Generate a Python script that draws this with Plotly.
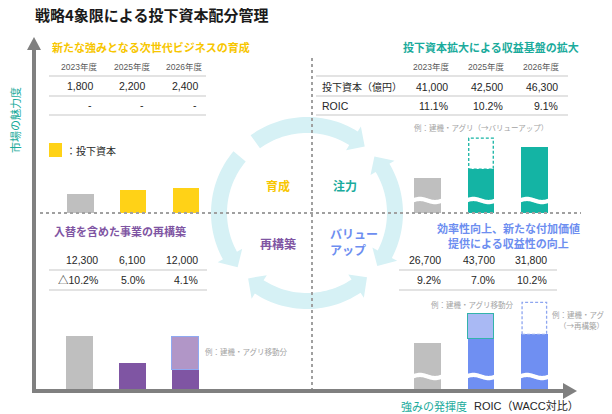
import math
import plotly.graph_objects as go

# ---------------- data ----------------
years = ["2023年度", "2025年度", "2026年度"]

ikusei_capital = [1800, 2200, 2400]
ikusei_roic = ["-", "-", "-"]

chuuryoku_capital = [41000, 42500, 46300]
chuuryoku_roic = [11.1, 10.2, 9.1]
chuuryoku_moved_out = [0, 5300, 0]        # dashed portion (→バリューアップ)

saikouchiku_capital = [12300, 6100, 12000]
saikouchiku_roic = [-10.2, 5.0, 4.1]
saikouchiku_moved_in = [0, 0, 7600]       # 建機・アグリ移動分

valueup_capital = [26700, 43700, 31800]
valueup_roic = [9.2, 7.0, 10.2]
valueup_moved_in = [0, 14500, 0]          # 建機・アグリ移動分
valueup_moved_out = [0, 0, 18600]         # dashed portion (→再構築)

# ---------------- styling ----------------
W, H = 612, 414
OFF = 8  # page body margin
FONT = "Liberation Sans, Noto Sans CJK JP, sans-serif"
JP = "Noto Sans CJK JP, sans-serif"
GRAY_BAR = "#bfbfbf"
YELLOW = "#ffd217"
YELLOW_T = "#f7c600"
TEAL = "#14b4a4"
TEAL_T = "#1aab9c"
PURPLE = "#7f55a3"
PURPLE_L = "#b196c7"
BLUE = "#6f8ff2"
BLUE_L = "#a9b9f4"
BLUE_T = "#6d8ef0"
RING = "#d6f1f5"
AXIS = "#808080"
LINE = "#c8c8c8"


def X(p):
    return (p - OFF) / W


def Y(p):
    return 1 - (p - OFF) / H


fig = go.Figure()
shapes = []
ann = []


def text(x, y, s, size=10, color="#262626", xanchor="center", bold=False,
         family=FONT, angle=0, align="center"):
    ann.append(dict(x=X(x), y=Y(y), xref="paper", yref="paper", text=(f"<b>{s}</b>" if bold else s),
                    showarrow=False, xanchor=xanchor, yanchor="middle", textangle=angle, align=align,
                    font=dict(size=size, color=color, family=family)))


def hline(x0, x1, y, color=LINE, width=1.2, dash="solid"):
    shapes.append(dict(type="line", xref="paper", yref="paper", x0=X(x0), x1=X(x1), y0=Y(y), y1=Y(y),
                       line=dict(color=color, width=width, dash=dash)))


def poly(pts, color, layer="below", line_color=None, lw=0):
    d = "M " + " L ".join(f"{X(px):.5f},{Y(py):.5f}" for px, py in pts) + " Z"
    shapes.append(dict(type="path", xref="paper", yref="paper", path=d, fillcolor=color, layer=layer,
                       line=dict(color=line_color or color, width=lw)))


# ---------------- ring of arrows ----------------
CX, CY, R, RW = 307, 213, 88, 16
HL, HW = 14, 14


def P(r, a):
    t = math.radians(a)
    return (CX + r * math.cos(t), CY - r * math.sin(t))


def arc_arrow(a0, a1, head0, head1):
    sign = 1 if a1 > a0 else -1
    dh = math.degrees(HL / R)
    s = a0 + sign * dh if head0 else a0
    e = a1 - sign * dh if head1 else a1
    ro, ri = R + RW / 2, R - RW / 2
    n = 30
    pts = [P(ro, s + (e - s) * i / n) for i in range(n + 1)]
    if head1:
        pts += [P(R + HW, e), P(R, a1), P(R - HW, e)]
    pts += [P(ri, e + (s - e) * i / n) for i in range(n + 1)]
    if head0:
        pts += [P(R - HW, s), P(R, a0), P(R + HW, s)]
    poly(pts, RING)


arc_arrow(126, 49, False, True)      # top: 育成 -> 注力
arc_arrow(40, -37, True, True)       # right: 注力 <-> バリューアップ
arc_arrow(-47, -132, True, True)     # bottom: バリューアップ <-> 再構築
arc_arrow(140, 218, False, True)     # left: 育成 -> 再構築

# ---------------- dotted quadrant lines ----------------
hline(40, 581, 213, color="#a0a0a0", width=2, dash="dot")
shapes.append(dict(type="line", xref="paper", yref="paper", x0=X(312), x1=X(312), y0=Y(58), y1=Y(389),
                   line=dict(color="#a0a0a0", width=2, dash="dot")))

# ---------------- main axes (arrows) ----------------
shapes.append(dict(type="line", xref="paper", yref="paper", x0=X(34), x1=X(34), y0=Y(393), y1=Y(46),
                   line=dict(color=AXIS, width=4)))
poly([(34, 37), (27, 50), (41, 50)], AXIS, layer="above")
shapes.append(dict(type="line", xref="paper", yref="paper", x0=X(32), x1=X(566), y0=Y(391), y1=Y(391),
                   line=dict(color=AXIS, width=4)))
poly([(577, 391), (563, 383), (563, 399)], AXIS, layer="above")

# ---------------- titles & labels ----------------
text(33, 14.5, "戦略4象限による投下資本配分管理", size=15, color="#1a1a1a", xanchor="left", bold=True, family=JP)
text(15, 120, "市場の魅力度", size=11, color=TEAL_T, angle=-90, family=JP)
text(399, 406, "強みの発揮度", size=11, color=TEAL_T, xanchor="left", family=JP)
text(472, 406, "ROIC（WACC対比）", size=11, color="#262626", xanchor="left")

text(50, 47, "新たな強みとなる次世代ビジネスの育成", size=11, color=YELLOW_T, xanchor="left", bold=True, family=JP)
text(401, 47, "投下資本拡大による収益基盤の拡大", size=11, color=TEAL_T, xanchor="left", bold=True, family=JP)
text(52, 231, "入替を含めた事業の再構築", size=11, color=PURPLE, xanchor="left", bold=True, family=JP)
text(508, 228, "効率性向上、新たな付加価値", size=11, color=BLUE_T, bold=True, family=JP)
text(508, 243, "提供による収益性の向上", size=11, color=BLUE_T, bold=True, family=JP)

text(278, 185, "育成", size=12, color=YELLOW_T, bold=True, family=JP)
text(345, 185, "注力", size=12, color=TEAL_T, bold=True, family=JP)
text(278, 243, "再構築", size=12, color=PURPLE, bold=True, family=JP)
text(328, 242, "バリュー<br>アップ", size=12, color=BLUE_T, bold=True, family=JP, xanchor="left", align="left")

# legend
shapes.append(dict(type="rect", xref="paper", yref="paper", x0=X(49), x1=X(62), y0=Y(157), y1=Y(143),
                   fillcolor=YELLOW, line=dict(width=0)))
text(64, 150, "：投下資本", size=10, color="#262626", xanchor="left", family=JP)

# notes
NOTE = "#a3a3a3"
text(481, 128, "例：建機・アグリ（→バリューアップ）", size=7.5, color=NOTE, family=JP)
text(203, 351, "例：建機・アグリ移動分", size=7.5, color=NOTE, xanchor="left", family=JP)
text(429, 304, "例：建機・アグリ移動分", size=7.5, color=NOTE, xanchor="left", family=JP)
text(550, 314, "例：建機・アグリ", size=7.5, color=NOTE, xanchor="left", family=JP)
text(557, 325, "（→再構築）", size=7.5, color=NOTE, xanchor="left", family=JP)

# ---------------- tables ----------------
def fmt_int(v):
    return f"{v:,}"


def fmt_pct(v):
    return ("△" if v < 0 else "") + f"{abs(v):.1f}%"


HDR = "#595959"
# top-left
for cx, yr in zip([79, 131.5, 184], years):
    text(cx, 67, yr, size=8.5, color=HDR)
for rx, v in zip([95, 147, 200], ikusei_capital):
    text(rx, 86, fmt_int(v), size=10.5, xanchor="right")
for rx, v in zip([94, 146, 199], ikusei_roic):
    text(rx, 105, v, size=10.5, xanchor="right")
for y in (76, 96, 115):
    hline(49, 206, y)

# top-right
for cx, yr in zip([430.5, 486, 541], years):
    text(cx, 67, yr, size=8.5, color=HDR)
text(320, 87, "投下資本（億円）", size=10, xanchor="left", family=JP)
text(320, 106, "ROIC", size=10.5, xanchor="left")
for rx, v in zip([450, 505, 560], chuuryoku_capital):
    text(rx, 87, fmt_int(v), size=10.5, xanchor="right")
for rx, v in zip([450, 505, 560], chuuryoku_roic):
    text(rx, 106, fmt_pct(v), size=10.5, xanchor="right")
for y in (76, 96, 115):
    hline(316, 568, y)

# bottom-left
for rx, v in zip([100, 147, 200], saikouchiku_capital):
    text(rx, 260, fmt_int(v), size=10.5, xanchor="right")
for rx, v in zip([100, 147, 200], saikouchiku_roic):
    text(rx, 280, fmt_pct(v), size=10.5, xanchor="right")
for y in (270, 290):
    hline(49, 207, y)

# bottom-right
for rx, v in zip([443, 497, 549], valueup_capital):
    text(rx, 260, fmt_int(v), size=10.5, xanchor="right")
for rx, v in zip([443, 497, 549], valueup_roic):
    text(rx, 280, fmt_pct(v), size=10.5, xanchor="right")
for y in (270, 290):
    hline(399, 557, y)

# ---------------- bar panels ----------------
idx = [0, 1, 2]
BW = 0.5


def nz(vals):
    return [v if v else None for v in vals]


def panel(n, left_px, right_px, base_px, top_px, base_val, px_per_unit):
    xa, ya = f"xaxis{n}", f"yaxis{n}"
    top_val = base_val + (base_px - top_px) / px_per_unit
    layout = {
        xa: dict(domain=[X(left_px), X(right_px)], range=[-0.5, 2.5], anchor=f"y{n}", visible=False,
                 fixedrange=True),
        ya: dict(domain=[Y(base_px), Y(top_px)], range=[base_val, top_val], anchor=f"x{n}", visible=False,
                 fixedrange=True),
    }
    fig.update_layout(**layout)


DASH = "3px,2px"

# top-left: 育成
panel(2, 53.5, 212, 213, 140, 0, 25 / 2400)
fig.add_trace(go.Bar(x=idx, y=ikusei_capital, width=BW, xaxis="x2", yaxis="y2",
                     marker=dict(color=[GRAY_BAR, YELLOW, YELLOW], line=dict(width=0))))

# top-right: 注力 (broken axis)
TR_BASE = 35000
TR_SCALE = 0.00585
panel(3, 401, 561, 213, 125, TR_BASE, TR_SCALE)
fig.add_trace(go.Bar(x=idx, y=chuuryoku_capital, width=BW, xaxis="x3", yaxis="y3",
                     marker=dict(color=[GRAY_BAR, TEAL, TEAL], line=dict(width=0))))
for i, (c, m) in enumerate(zip(chuuryoku_capital, chuuryoku_moved_out)):
    if m:
        shapes.append(dict(type="rect", xref="x3", yref="y3", x0=i - BW / 2 + 0.02, x1=i + BW / 2 - 0.02,
                           y0=c, y1=c + m, line=dict(color=TEAL, width=1.3, dash=DASH),
                           fillcolor="rgba(0,0,0,0)"))

# bottom-left: 再構築 (stacked)
panel(4, 53, 212, 389, 300, 0, 0.00431)
sk_base = [c - m for c, m in zip(saikouchiku_capital, saikouchiku_moved_in)]
fig.add_trace(go.Bar(x=idx, y=sk_base, width=BW, xaxis="x4", yaxis="y4",
                     marker=dict(color=[GRAY_BAR, PURPLE, PURPLE], line=dict(width=0))))
fig.add_trace(go.Bar(x=idx, y=nz(saikouchiku_moved_in), width=BW, xaxis="x4", yaxis="y4",
                     marker=dict(color=PURPLE_L, line=dict(width=1.2, color="#8fa9f2"))))

# bottom-right: バリューアップ (stacked, broken axis)
BR_SCALE = 0.00172
panel(5, 401, 561, 389, 290, 0, BR_SCALE)
vu_base = [c - m for c, m in zip(valueup_capital, valueup_moved_in)]
fig.add_trace(go.Bar(x=idx, y=vu_base, width=BW, xaxis="x5", yaxis="y5",
                     marker=dict(color=[GRAY_BAR, BLUE, BLUE], line=dict(width=0))))
fig.add_trace(go.Bar(x=idx, y=nz(valueup_moved_in), width=BW, xaxis="x5", yaxis="y5",
                     marker=dict(color=BLUE_L, line=dict(width=1.5, color="#33b3ab"))))
for i, (c, m) in enumerate(zip(valueup_capital, valueup_moved_out)):
    if m:
        shapes.append(dict(type="rect", xref="x5", yref="y5", x0=i - BW / 2 + 0.02, x1=i + BW / 2 - 0.02,
                           y0=c, y1=c + m, line=dict(color="#8ea6f0", width=1.3, dash=DASH),
                           fillcolor="rgba(255,255,255,0)"))

# wave breaks (white bands across the bars of the broken-axis panels)
def wave(cx, yc, half=15, amp=1.6, th=2.2):
    n = 24
    top = []
    bot = []
    for k in range(n + 1):
        t = k / n
        x = cx - half + 2 * half * t
        dy = -amp * math.sin(2 * math.pi * t)
        top.append((x, yc - th + dy))
        bot.append((x, yc + th + dy))
    poly(top + bot[::-1], "white", layer="above")


for cx in (427.5, 481, 534.5):
    wave(cx, 200.5)
    wave(cx, 376.5)

fig.update_traces(showlegend=False, hoverinfo="skip", selector=dict(type="bar"))
fig.update_layout(
    width=W, height=H, autosize=False,
    margin=dict(l=0, r=0, t=0, b=0),
    paper_bgcolor="white", plot_bgcolor="rgba(0,0,0,0)",
    barmode="stack", bargap=0,
    shapes=shapes, annotations=ann,
    showlegend=False,
    xaxis=dict(visible=False), yaxis=dict(visible=False),
)

fig.write_html("out.html")
